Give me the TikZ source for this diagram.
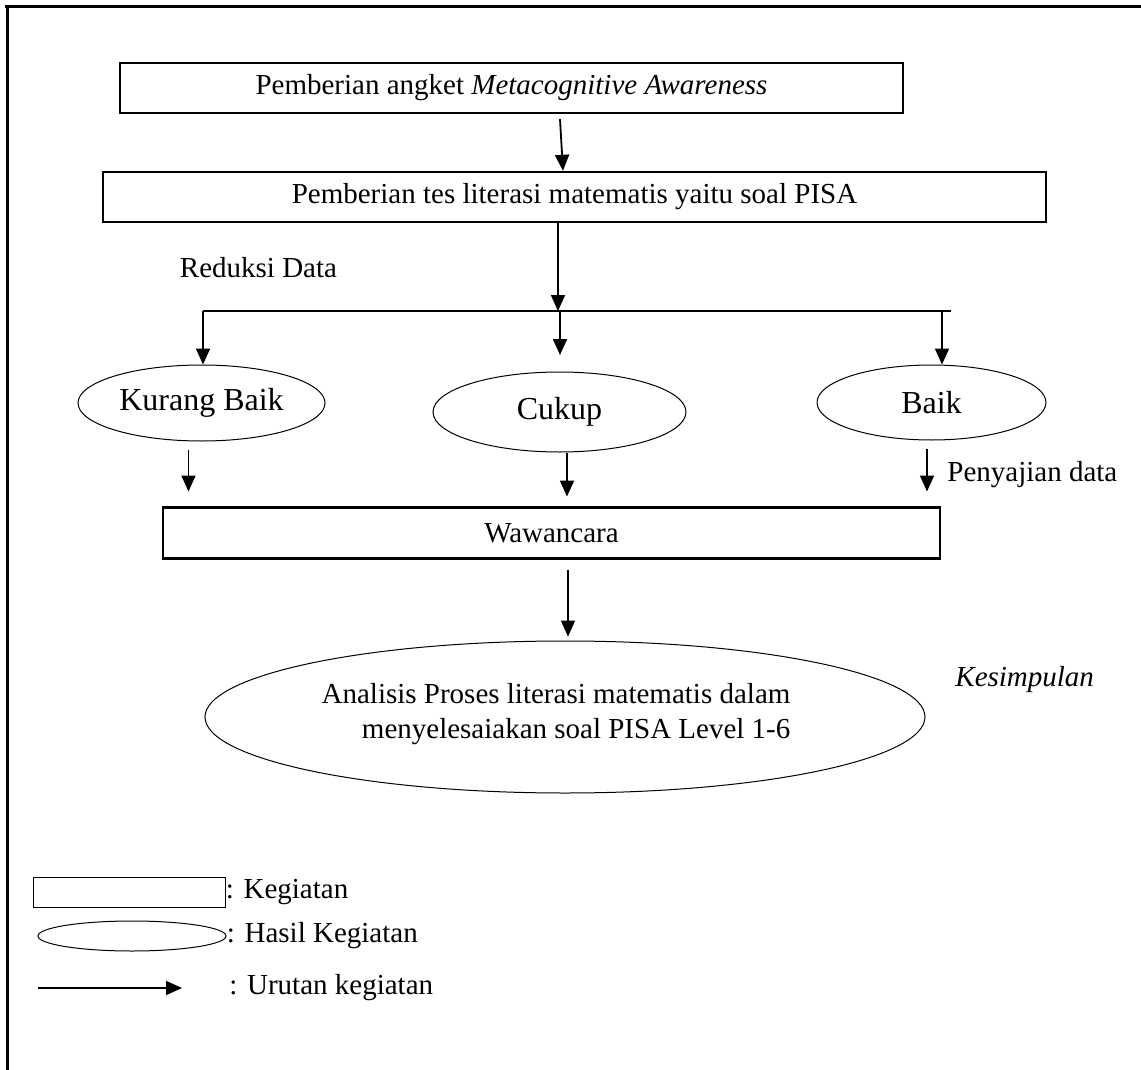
\documentclass[tikz,border=0pt]{standalone}
\usepackage{fontspec}
\setmainfont{Liberation Serif}
\usetikzlibrary{arrows.meta, calc, shapes.geometric, positioning}

\begin{document}
\begin{tikzpicture}[x=0.5pt, y=-0.5pt, >={Triangle[length=8pt,width=7pt]},
		teks/.style={font=\fontsize{14.5}{17.5}\selectfont, inner sep=0pt},
		kotak/.style={draw, line width=1.2pt, inner sep=0pt, teks},
		hasil/.style={draw, ellipse, line width=0.5pt, inner sep=0pt, font=\fontsize{16}{19}\selectfont},
		alur/.style={->, line width=0.9pt}]
		\useasboundingbox (0,0) rectangle (1141,1070);
		\draw[line width=1.5pt] (5,7) -- (1141,7); \draw[line width=1.5pt] (7,5) -- (7,1070);
		% kegiatan
		\node[kotak, minimum width=391.5pt, minimum height=25pt] (angket) at (511.5,88) {Pemberian angket \textit{Metacognitive Awareness}};
		\node[kotak, minimum width=471.5pt, minimum height=25pt] (tes) at (574.5,197) {Pemberian tes literasi matematis yaitu soal PISA};
		\draw[alur] ($(angket.south)+(48.5,5)$) -- ($(tes.north)+(-11.5,0)$);
		\coordinate (cabang) at (558,311); \coordinate (cabangkiri) at (203,311); \coordinate (cabangkanan) at (951,311);
		\draw[alur] ($(tes.south)+(-16.5,0)$) -- (cabang);
		\draw[line width=0.9pt] (cabangkiri) -- (cabangkanan);
		\node[teks] (reduksi) at (258.5,268) {Reduksi Data};
		% hasil
		\node[hasil, minimum width=123.5pt, minimum height=38pt] (kurang) at (201.5,403) {Kurang Baik};
		\node[hasil, minimum width=126.5pt, minimum height=40pt] (cukup) at (559.5,412) {Cukup};
		\node[hasil, minimum width=114.5pt, minimum height=37.5pt] (baik) at (931.5,402.5) {Baik};
		\draw[alur] (cabangkiri) -- (cabangkiri |- kurang.north);
		\draw[alur] ($(cabang)+(2,0)$) -- ++(0,44);
		\draw[alur] ($(cabangkanan)+(-9,0)$) -- ($(cabangkanan |- baik.north)+(-9,0)$);
		\draw[alur] ($(kurang.south)+(-13,8)$) -- ++(0,42);
		\draw[alur] ($(cukup.south)+(7.5,0)$) -- ++(0,44);
		\draw[alur] ($(baik.south)+(-4.5,8)$) -- ++(0,43);
		\node[teks, anchor=west] (penyajian) at (947,475) {Penyajian data};
		\node[kotak, minimum width=388.5pt, minimum height=25.5pt] (wawancara) at (551.5,533) {Wawancara};
		\node[hasil, minimum width=360pt, minimum height=76pt] (analisis) at (565,717) {};
		\node[teks, align=right] (analisisteks) at (556,714) {Analisis Proses literasi matematis dalam\\menyelesaiakan soal PISA Level 1-6};
		\draw[alur] ($(wawancara.south)+(16.5,10)$) -- ($(analisis.north)+(3,-4)$);
		\node[teks, anchor=west] (kesimpulan) at (955,680) {\textit{Kesimpulan}};
		% keterangan
		\node[draw, line width=0.5pt, minimum width=96pt, minimum height=15pt, inner sep=0pt] (lkotak) at (129,892) {};
		\node[teks, anchor=west] (lkegiatan) at (lkotak.east) {: Kegiatan};
		\node[hasil, minimum width=94pt, minimum height=15pt] (lhasil) at (132,936) {};
		\node[teks, anchor=west] (lhasilteks) at (lhasil.east) {: Hasil Kegiatan};
		\coordinate (lpanah) at (38,988); \draw[alur] (lpanah) -- ++(144,0);
		\node[teks, anchor=west] (lurutan) at (229,988) {: Urutan kegiatan};
\end{tikzpicture}
\end{document}
